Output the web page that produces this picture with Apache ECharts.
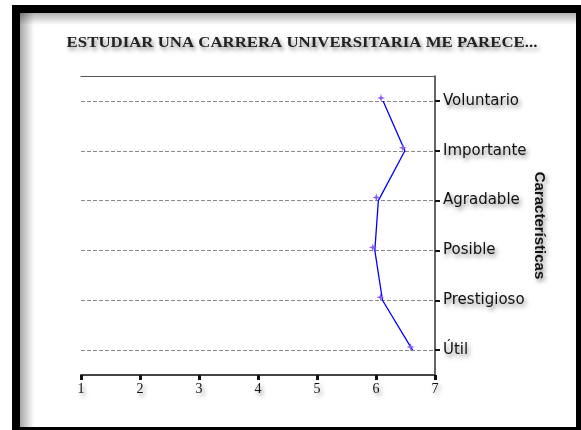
<!DOCTYPE html>
<html>
<head>
<meta charset="utf-8">
<style>html,body{margin:0;padding:0;background:#fff;}#c{width:581px;height:430px;}</style>
<script src="https://cdn.jsdelivr.net/npm/echarts@6/dist/echarts.min.js"></script>
</head>
<body>
<div id="c"></div>
<script>
var categories = ['Útil', 'Prestigioso', 'Posible', 'Agradable', 'Importante', 'Voluntario'];
var values = [6.62, 6.11, 5.98, 6.04, 6.49, 6.12];
var xTicks = [1, 2, 3, 4, 5, 6, 7];
var titleText = 'ESTUDIAR UNA CARRERA UNIVERSITARIA ME PARECE...';
var yName = 'Características';

var shadow = {textShadowColor: 'rgba(0,0,0,0.45)', textShadowBlur: 4, textShadowOffsetX: 2, textShadowOffsetY: 3};
var chart = echarts.init(document.getElementById('c'));
chart.setOption({
  backgroundColor: '#fff',
  animation: false,
  graphic: [
    {type: 'rect', shape: {x: 20, y: 13, width: 14, height: 420}, style: {fill: new echarts.graphic.LinearGradient(0, 0, 1, 0, [{offset: 0, color: 'rgba(0,0,0,0.35)'}, {offset: 1, color: 'rgba(0,0,0,0)'}])}, silent: true},
    {type: 'rect', shape: {x: 20, y: 13, width: 560, height: 12}, style: {fill: new echarts.graphic.LinearGradient(0, 0, 0, 1, [{offset: 0, color: 'rgba(0,0,0,0.3)'}, {offset: 1, color: 'rgba(0,0,0,0)'}])}, silent: true},
    {type: 'rect', shape: {x: 16, y: 9, width: 564, height: 422}, style: {fill: 'none', stroke: '#000', lineWidth: 8}, silent: true},
    {type: 'text', x: 302, y: 43, scaleX: 1.2, silent: true,
      style: Object.assign({text: titleText, fontFamily: 'Liberation Serif', fontWeight: 'bold', fontSize: 14, fill: '#222', align: 'center', verticalAlign: 'middle'}, shadow)}
  ],
  grid: {left: 81, right: 146, top: 76, bottom: 55},
  xAxis: [{
    type: 'value', min: 1, max: 7, interval: 1, position: 'bottom',
    axisLine: {show: true, lineStyle: {color: '#444', width: 2}},
    axisTick: {show: true, length: 5, lineStyle: {color: '#111', width: 3}},
    splitLine: {show: false},
    axisLabel: Object.assign({fontFamily: 'Liberation Serif', fontSize: 14, color: '#111', margin: 7,
      formatter: function (v) { return xTicks.indexOf(v) >= 0 ? String(v) : ''; }}, shadow)
  }, {
    type: 'value', min: 1, max: 7, position: 'top',
    axisLine: {show: true, lineStyle: {color: '#555', width: 1}},
    axisTick: {show: false}, axisLabel: {show: false}, splitLine: {show: false}
  }],
  yAxis: {
    type: 'category', data: categories, position: 'right', boundaryGap: true,
    axisLine: {show: true, lineStyle: {color: '#333', width: 1.5}},
    axisTick: {show: true, alignWithLabel: true, length: 5, lineStyle: {color: '#111', width: 2}},
    splitLine: {show: true, alignWithLabel: true, lineStyle: {color: '#888', type: [4, 2], width: 1}},
    axisLabel: Object.assign({fontFamily: 'DejaVu Sans', fontSize: 15, color: '#111', margin: 8}, shadow),
    name: yName, nameLocation: 'middle', nameRotate: -90, nameGap: 97, nameMoveOverlap: false,
    nameTextStyle: Object.assign({fontFamily: 'Liberation Sans', fontWeight: 'bold', fontSize: 15, color: '#111'}, shadow)
  },
  series: [{
    type: 'line', xAxisIndex: 0,
    data: values.map(function (v, i) { return [v, categories[i]]; }),
    lineStyle: {color: '#0000ff', width: 1.3},
    symbol: 'path://M5,0 L6.2,3.8 L10,5 L6.2,6.2 L5,10 L3.8,6.2 L0,5 L3.8,3.8 Z', symbolSize: 8, symbolOffset: [-2, -3],
    itemStyle: {color: '#8a5cf0'},
    z: 5
  }]
});
</script>
</body>
</html>
